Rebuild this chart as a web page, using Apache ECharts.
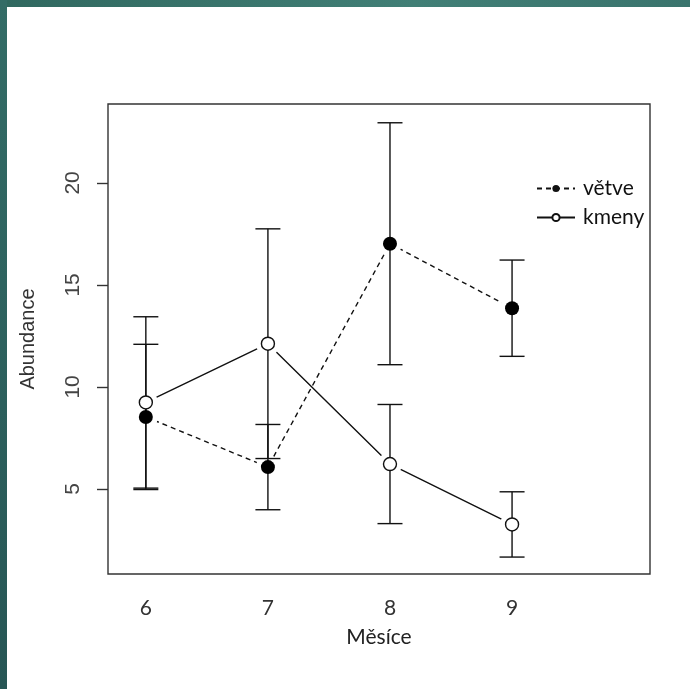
<!DOCTYPE html>
<html>
<head>
<meta charset="utf-8">
<script src="https://cdn.jsdelivr.net/npm/echarts@6/dist/echarts.min.js"></script>
<style>
html,body{margin:0;padding:0;background:#fff;}
#chart{width:690px;height:689px;}
</style>
</head>
<body>
<div id="chart"></div>
<script>
const months = [6, 7, 8, 9];
const vetveMean = [8.53, 6.07, 17.02, 13.86];
const vetveErr = [3.56, 2.09, 5.93, 2.36];
const kmenyMean = [9.24, 12.12, 6.22, 3.26];
const kmenyErr = [4.2, 5.63, 2.92, 1.6];
const yTicks = [5, 10, 15, 20];
const xTicks = [6, 7, 8, 9];
const seriesNames = ['větve', 'kmeny'];
const xTitle = 'Měsíce';
const yTitle = 'Abundance';

const vetvePts = months.map((m, i) => [m, vetveMean[i]]);
const kmenyPts = months.map((m, i) => [m, kmenyMean[i]]);
const errData = months.map((m, i) => [m, vetveMean[i] - vetveErr[i], vetveMean[i] + vetveErr[i]])
  .concat(months.map((m, i) => [m, kmenyMean[i] - kmenyErr[i], kmenyMean[i] + kmenyErr[i]]));

const chart = echarts.init(document.getElementById('chart'), null, {renderer: 'canvas'});
const option = {
  animation: false,
  backgroundColor: '#ffffff',
  graphic: [
    {type: 'rect', z: 100, silent: true, shape: {x: 0, y: 0, width: 690, height: 7},
     style: {fill: new echarts.graphic.LinearGradient(0, 0, 1, 0, [
       {offset: 0, color: '#30685f'}, {offset: 0.6, color: '#417f76'}, {offset: 1, color: '#3a746d'}])}},
    {type: 'rect', z: 100, silent: true, shape: {x: 0, y: 0, width: 7, height: 689},
     style: {fill: new echarts.graphic.LinearGradient(0, 0, 0, 1, [
       {offset: 0, color: '#336c66'}, {offset: 1, color: '#275655'}])}}
  ],
  grid: {left: 108, top: 104, width: 542, height: 470, show: true,
         borderColor: '#333', borderWidth: 1.4, backgroundColor: 'transparent'},
  legend: {
    data: seriesNames,
    orient: 'vertical',
    left: 536, top: 177, padding: 0,
    itemWidth: 38, itemHeight: 9, itemGap: 6,
    textStyle: {fontFamily: 'Lato', fontSize: 21, color: '#111', lineHeight: 23, padding: [0,0,0,3]},
    selectedMode: false
  },
  xAxis: {
    type: 'value', min: 5.69, max: 10.13,
    name: xTitle, nameLocation: 'middle', nameGap: 53,
    nameTextStyle: {fontFamily: 'Lato', fontSize: 21, color: '#222'},
    axisLine: {show: false}, axisTick: {show: false}, splitLine: {show: false},
    axisLabel: {customValues: xTicks, margin: 24, fontFamily: 'Lato', fontSize: 21, color: '#333'}
  },
  yAxis: {
    type: 'value', min: 0.83, max: 23.87,
    name: yTitle, nameLocation: 'middle', nameGap: 70,
    nameTextStyle: {fontFamily: 'Liberation Sans', fontSize: 20, color: '#333'},
    axisLine: {show: false},
    axisTick: {show: true, customValues: yTicks, length: 11, lineStyle: {color: '#333', width: 1.4}},
    splitLine: {show: false},
    axisLabel: {customValues: yTicks, rotate: 90, margin: 24, fontFamily: 'Liberation Sans', fontSize: 21, color: '#444'}
  },
  series: [
    {name: 'větve', type: 'line', data: vetvePts, showSymbol: false, symbol: 'circle', symbolSize: 7,
     z: 2, silent: true,
     lineStyle: {color: '#111', width: 1.4, type: [5, 4]},
     itemStyle: {color: '#111'}},
    {name: 'kmeny', type: 'line', data: kmenyPts, showSymbol: false, symbol: 'circle', symbolSize: 7,
     z: 2, silent: true,
     lineStyle: {color: '#111', width: 1.4},
     itemStyle: {color: '#fff', borderColor: '#111', borderWidth: 1.2}},
    {name: 'halo', type: 'scatter', data: vetvePts.concat(kmenyPts), symbol: 'circle', symbolSize: 24,
     z: 3, silent: true, itemStyle: {color: '#fff', opacity: 1}},
    {name: 'err', type: 'custom', data: errData, z: 4, silent: true,
     encode: {x: 0, y: [1, 2]},
     renderItem: function (params, api) {
       const x = api.value(0), lo = api.value(1), hi = api.value(2);
       const a = api.coord([x, lo]), b = api.coord([x, hi]);
       const hw = 12.5;
       const st = {stroke: '#111', lineWidth: 1.4};
       return {type: 'group', children: [
         {type: 'line', shape: {x1: a[0], y1: a[1], x2: b[0], y2: b[1]}, style: st},
         {type: 'line', shape: {x1: a[0] - hw, y1: a[1], x2: a[0] + hw, y2: a[1]}, style: st},
         {type: 'line', shape: {x1: b[0] - hw, y1: b[1], x2: b[0] + hw, y2: b[1]}, style: st}
       ]};
     }},
    {name: 'větve body', type: 'scatter', data: vetvePts, symbol: 'circle', symbolSize: 14, z: 5, silent: true,
     itemStyle: {color: '#000', opacity: 1}},
    {name: 'kmeny body', type: 'scatter', data: kmenyPts, symbol: 'circle', symbolSize: 13, z: 5, silent: true,
     itemStyle: {color: '#fff', borderColor: '#111', borderWidth: 1.4, opacity: 1}}
  ]
};
chart.setOption(option);
</script>
</body>
</html>
